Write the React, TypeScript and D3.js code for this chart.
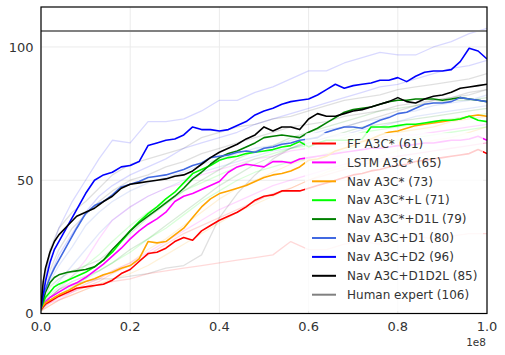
import React from "react";
import * as d3 from "d3";

// x grid (in units of 1e8 steps) for the main (mean) curves
const MX = [0, 0.005, 0.01, 0.02, 0.03, 0.04, 0.06, 0.08, 0.10, 0.12, 0.14, 0.16, 0.18, 0.20, 0.22, 0.24, 0.26, 0.28, 0.30, 0.32, 0.34, 0.36, 0.38, 0.40, 0.42, 0.44, 0.46, 0.48, 0.50, 0.52, 0.54, 0.56, 0.58, 0.60, 0.62, 0.64, 0.66, 0.68, 0.70, 0.72, 0.74, 0.76, 0.78, 0.80, 0.82, 0.84, 0.86, 0.88, 0.90, 0.92, 0.94, 0.96, 0.98, 1.0];

const ffA3C = [1.5, 2.5, 3.5, 4.5, 5.5, 6.5, 8, 9.5, 10, 10.5, 11, 12.5, 15, 16.5, 19.5, 22.5, 23, 24.5, 27, 28.5, 27.5, 31, 33, 35, 36.5, 38, 40, 42.5, 44, 44.5, 46, 46, 46, 47, 48, 49, 50, 51, 52, 52.5, 53.5, 54, 55, 55.5, 56, 57, 57.5, 58, 58.5, 59, 59.5, 60, 61.5, 60];
const lstmA3C = [2, 3.5, 4.5, 6, 7, 8, 10, 11.5, 13.5, 16, 18.5, 21.5, 24.5, 28, 31, 33.5, 35.5, 38, 42, 44, 45, 46.5, 48, 49.5, 53, 55, 56, 55.5, 55, 57, 57, 56.5, 58, 58.5, 59, 59.5, 60, 60.5, 61, 61.5, 62, 62, 62.5, 63, 63, 63.5, 64, 64, 64.5, 65, 65, 65.5, 66.5, 65];
const navA3C = [2, 3, 4, 5, 6, 7, 8.5, 10.5, 12, 13, 14.5, 15.5, 17, 18, 20.5, 27, 26.5, 27, 29.5, 32, 36, 40, 43, 45, 46, 47, 48, 49.5, 51, 52, 52.5, 53.5, 55, 57.5, 58, 59, 61, 62, 63, 64.5, 65.5, 67, 68, 68.5, 69.5, 70.5, 71, 71.5, 72, 72.5, 73, 74, 74.5, 74];
const navA3CL = [2, 4, 6, 8, 10, 11, 12.5, 14, 15.5, 17.5, 20, 23, 27, 31, 34.5, 37.5, 40, 43, 45.5, 49, 52.5, 54, 55.5, 57.5, 58.5, 59, 60, 60.5, 61, 61.5, 62.5, 63, 64.5, 62.5, 64, 65, 65, 65, 65, 65.5, 70, 70, 70, 70.5, 71, 71, 71.5, 72, 72.5, 72.5, 73, 74, 72.5, 72];
const navA3CD1L = [2, 5, 8, 11.5, 13.5, 14.5, 15.5, 16, 16.5, 17.5, 20, 24, 27.5, 31, 34, 36.5, 39, 41.5, 44, 47, 50.5, 53, 56, 58.5, 60, 61, 62.5, 64, 66, 66.5, 67, 66.5, 66, 68, 69.5, 71.5, 73.5, 75.5, 76.5, 77, 77.5, 78.5, 79.5, 80, 80, 80.5, 80.5, 80.5, 80, 80.5, 81, 80.5, 80, 79.5];
const navA3CD1 = [4, 7, 9, 13.5, 17, 20, 26, 32, 37.5, 40.5, 42, 44.5, 47.5, 48.5, 49.5, 51, 51.5, 52, 53, 54, 55.5, 56.5, 58.5, 59, 59.5, 60.5, 61, 60.5, 62, 62.5, 63.5, 64, 65, 65.5, 66, 68, 69, 70, 70, 69.5, 71, 72.5, 73.5, 75, 75.5, 77, 78.5, 79, 79, 79.5, 81, 80.5, 80, 79.5];
const navA3CD2 = [2, 7, 12, 19, 24, 27, 33, 39, 45, 50, 52, 53, 55, 55.5, 57, 63, 64, 65, 65.5, 67, 70, 69, 69, 68.5, 69, 70.5, 72, 74.5, 76, 77, 78.5, 79.5, 80, 80.5, 82, 84, 86, 84.5, 85.5, 86, 86.5, 87.5, 87.5, 88.5, 87, 89, 90.5, 91, 91, 91.5, 94.5, 99.5, 98.5, 95.5];
const navA3CD1D2L = [3, 12, 17, 23, 27, 29.5, 33, 36.5, 38, 39.5, 42, 44, 47, 48.5, 49, 49.5, 50, 50.5, 51.5, 52, 53.5, 56, 58.5, 60.5, 62, 63.5, 65.5, 67, 70, 68.5, 70, 70, 69, 73, 75, 74, 74, 75, 76, 76.5, 77.5, 78.5, 79.5, 81, 79.5, 79, 80.5, 81.5, 82, 83, 84.5, 85, 85.5, 86];
const humanExpert = 106;

// x grid for the individual (faint) runs
const FX = [0, 0.02, 0.04, 0.07, 0.10, 0.13, 0.16, 0.20, 0.24, 0.28, 0.32, 0.36, 0.40, 0.44, 0.48, 0.52, 0.56, 0.60, 0.64, 0.68, 0.72, 0.76, 0.80, 0.84, 0.88, 0.92, 0.96, 1.0];

const runsFF = [
  [2, 4, 6, 8, 10, 12, 15, 18, 22, 26, 30, 33, 36, 39, 42, 45, 47, 50, 52, 54, 56, 57, 59, 60, 61, 62, 63, 64],
  [1, 3, 5, 7, 9, 11, 12, 13, 15, 16, 17, 18, 19, 20, 21, 22, 27, 24, 24, 26, 27, 26, 28, 29, 28, 29, 30, 30],
];
const runsLSTM = [
  [2, 6, 9, 14, 20, 28, 35, 40, 44, 47, 49, 52, 54, 56, 58, 59, 61, 62, 63, 64, 65, 66, 67, 67, 68, 69, 70, 71],
  [1, 4, 5, 8, 11, 13, 16, 19, 23, 27, 31, 35, 39, 42, 45, 48, 50, 52, 54, 56, 57, 58, 59, 60, 61, 62, 63, 64],
];
const runsNav = [
  [2, 5, 7, 9, 11, 13, 16, 19, 24, 28, 33, 38, 43, 47, 50, 53, 56, 58, 60, 62, 64, 66, 68, 69, 70, 72, 73, 74],
  [1, 3, 5, 7, 9, 11, 13, 15, 18, 22, 26, 30, 34, 38, 41, 44, 47, 50, 53, 55, 57, 59, 61, 63, 65, 66, 68, 70],
];
const runsNavL = [
  [2, 7, 10, 14, 18, 22, 27, 33, 38, 42, 46, 49, 52, 55, 58, 60, 62, 63, 64, 66, 68, 69, 70, 71, 72, 73, 74, 75],
  [1, 5, 7, 10, 13, 16, 19, 23, 28, 32, 37, 42, 46, 50, 53, 55, 57, 58, 60, 61, 63, 64, 65, 66, 67, 68, 69, 70],
];
const runsNavD1L = [
  [2, 10, 13, 16, 18, 20, 24, 30, 36, 41, 46, 50, 54, 58, 61, 63, 66, 68, 70, 72, 74, 76, 77, 78, 79, 80, 80, 81],
  [1, 6, 9, 12, 14, 16, 19, 24, 28, 33, 38, 43, 48, 52, 56, 59, 62, 64, 66, 68, 70, 71, 72, 73, 74, 75, 76, 77],
];
const runsNavD1 = [
  [3, 12, 18, 25, 33, 38, 42, 46, 49, 51, 53, 56, 58, 60, 62, 63, 65, 67, 69, 70, 72, 73, 75, 76, 78, 79, 80, 82],
  [2, 8, 12, 18, 24, 30, 35, 40, 44, 47, 50, 53, 55, 57, 59, 61, 62, 64, 66, 67, 69, 70, 72, 74, 75, 76, 77, 78],
];
const runsNavD2 = [
  [3, 22, 32, 42, 50, 58, 65, 64, 72, 72, 73, 76, 80, 80, 83, 85, 88, 91, 91, 94, 96, 98, 97, 97, 100, 102, 105, 107],
  [2, 14, 22, 30, 38, 44, 48, 52, 55, 58, 62, 64, 66, 68, 71, 73, 75, 77, 79, 81, 83, 85, 86, 88, 90, 92, 93, 95],
];
const runsNavD1D2L = [
  [4, 24, 32, 38, 42, 47, 52, 56, 58, 60, 62, 66, 68, 70, 71, 73, 74, 76, 78, 80, 81, 82, 84, 85, 86, 87, 88, 90],
  [2, 16, 24, 32, 37, 42, 46, 50, 52, 55, 57, 60, 62, 64, 66, 68, 70, 71, 72, 74, 75, 76, 78, 79, 80, 81, 83, 84],
  [1, 6, 9, 11, 12, 13, 13, 14, 15, 17, 18, 22, 36, 45, 52, 58, 62, 65, 68, 70, 72, 74, 76, 78, 80, 81, 82, 84],
];

const seriesNames = ["FF A3C* (61)", "LSTM A3C* (65)", "Nav A3C* (73)", "Nav A3C*+L (71)", "Nav A3C*+D1L (79)", "Nav A3C+D1 (80)", "Nav A3C+D2 (96)", "Nav A3C+D1D2L (85)"];
const seriesColors = ["#ff0000", "#ff00ff", "#ffa500", "#00ff00", "#008000", "#4169e1", "#0000ff", "#000000"];
const seriesValues = [ffA3C, lstmA3C, navA3C, navA3CL, navA3CD1L, navA3CD1, navA3CD2, navA3CD1D2L];
const seriesRuns = [runsFF, runsLSTM, runsNav, runsNavL, runsNavD1L, runsNavD1, runsNavD2, runsNavD1D2L];
const humanName = "Human expert (106)";
const humanColor = "#808080";

const xTicks = [0, 0.2, 0.4, 0.6, 0.8, 1.0];
const yTicks = [0, 50, 100];

const W = 505, H = 355;
const L = 41, R = 487, T = 7, B = 313.5;

export default function App() {
  const x = d3.scaleLinear().domain([0, 1]).range([L, R]);
  const y = d3.scaleLinear().domain([0, 115]).range([B, T]);
  const lineM = d3.line<number>().x((_, i) => x(MX[i])).y((d) => y(d));
  const lineF = d3.line<number>().x((_, i) => x(FX[i])).y((d) => y(d));
  const font = "DejaVu Sans, sans-serif";
  const legendRows = [...seriesNames.map((n, i) => ({ n, c: seriesColors[i] })), { n: humanName, c: humanColor }];
  const lx = 305, ly = 133, rowH = 18.9;
  return (
    <svg width={W} height={H} style={{ position: "absolute", left: 0, top: 0, background: "#fff" }} fontFamily={font}>
      <defs>
        <clipPath id="plot">
          <rect x={L} y={T} width={R - L} height={B - T} />
        </clipPath>
      </defs>
      {xTicks.map((t) => (
        <line key={"gx" + t} x1={x(t)} x2={x(t)} y1={T} y2={B} stroke="#ebebeb" strokeWidth={1} />
      ))}
      {yTicks.map((t) => (
        <line key={"gy" + t} x1={L} x2={R} y1={y(t)} y2={y(t)} stroke="#ebebeb" strokeWidth={1} />
      ))}
      <g clipPath="url(#plot)" fill="none" strokeLinejoin="round">
        {seriesRuns.map((runs, si) =>
          runs.map((r, ri) => (
            <path key={"f" + si + "-" + ri} d={lineF(r) || ""} stroke={seriesColors[si]} strokeOpacity={si === 7 ? 0.12 : 0.15} strokeWidth={1.3} />
          ))
        )}
        {seriesValues.map((v, si) => (
          <path key={"m" + si} d={lineM(v) || ""} stroke={seriesColors[si]} strokeWidth={1.6} />
        ))}
        <line x1={L} x2={R} y1={y(humanExpert)} y2={y(humanExpert)} stroke={humanColor} strokeWidth={2} />
      </g>
      <rect x={lx} y={ly} width={178} height={178} rx={3} fill="#fff" fillOpacity={0.8} />
      {legendRows.map((r, i) => (
        <g key={"lg" + i}>
          <line x1={lx + 7} x2={lx + 31} y1={ly + 10.5 + i * rowH} y2={ly + 10.5 + i * rowH} stroke={r.c} strokeWidth={2} />
          <text x={lx + 42} y={ly + 10.5 + i * rowH} dy="0.35em" fontSize={12} fill="#333">{r.n}</text>
        </g>
      ))}
      <rect x={L} y={T} width={R - L} height={B - T} fill="none" stroke="#000" strokeWidth={1.2} />
      {xTicks.map((t) => (
        <text key={"xt" + t} x={x(t)} y={331} textAnchor="middle" fontSize={13} fill="#333">{t.toFixed(1)}</text>
      ))}
      {yTicks.map((t) => (
        <text key={"yt" + t} x={33.5} y={y(t)} dy="0.35em" textAnchor="end" fontSize={13} fill="#333">{t}</text>
      ))}
      <text x={486} y={346} textAnchor="end" fontSize={10.5} fill="#333">1e8</text>
    </svg>
  );
}
